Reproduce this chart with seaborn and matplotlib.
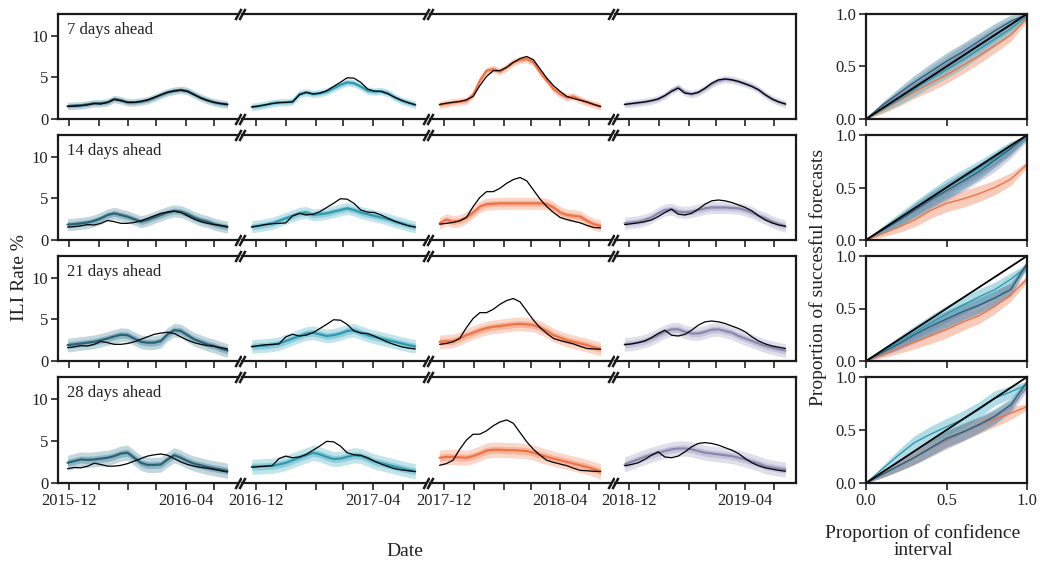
import numpy as np
import pandas as pd
import matplotlib
matplotlib.use("Agg")
import matplotlib.pyplot as plt
import matplotlib.dates as mdates
from matplotlib.ticker import FuncFormatter
import seaborn as sns

sns.set_theme(style="ticks")
plt.rcParams['font.family'] = ['Liberation Serif', 'DejaVu Serif']

# ---------------- data ----------------
HORIZONS = ["7 days ahead", "14 days ahead", "21 days ahead", "28 days ahead"]
SEASON_STARTS = ["2015-11-29", "2016-11-27", "2017-11-26", "2018-11-26"]
N_WEEKS = 25

# observed ILI rate by target week (extends 3 weeks past the forecast window)
truth_s1 = [1.5, 1.55, 1.6, 1.7, 1.85, 1.8, 2.0, 2.35, 2.2, 2.0, 2.0, 2.1, 2.3, 2.6,
            2.9, 3.2, 3.35, 3.45, 3.3, 2.9, 2.5, 2.2, 2.0, 1.85, 1.75, 1.6, 1.45, 1.3]
truth_s2 = [1.45, 1.55, 1.7, 1.85, 1.95, 2.0, 2.05, 2.9, 3.2, 3.0, 3.1, 3.4, 3.9, 4.4,
            4.95, 4.9, 4.4, 3.6, 3.35, 3.3, 3.0, 2.6, 2.25, 1.95, 1.7, 1.55, 1.45, 1.35]
truth_s3 = [1.75, 1.9, 2.0, 2.1, 2.3, 2.7, 4.0, 5.1, 5.8, 5.8, 6.2, 6.8, 7.25, 7.5,
            7.1, 6.0, 4.9, 4.0, 3.3, 2.7, 2.45, 2.25, 2.05, 1.75, 1.5, 1.45, 1.4, 1.35]
truth_s4 = [1.75, 1.85, 1.95, 2.05, 2.2, 2.4, 2.8, 3.3, 3.7, 3.1, 3.0, 3.2, 3.7, 4.3,
            4.7, 4.8, 4.7, 4.5, 4.2, 3.9, 3.5, 2.9, 2.4, 2.05, 1.8, 1.65, 1.5, 1.4]
TRUTH = [truth_s1, truth_s2, truth_s3, truth_s4]

# forecast medians: [horizon][season]
med_h7 = [
    [1.55, 1.6, 1.65, 1.75, 1.9, 1.9, 2.0, 2.4, 2.25, 2.0, 2.0, 2.1, 2.25, 2.55, 2.9, 3.2, 3.4, 3.5, 3.35, 2.95, 2.55, 2.25, 2.0, 1.85, 1.75],
    [1.45, 1.55, 1.7, 1.9, 2.0, 2.0, 2.1, 3.0, 3.2, 3.0, 3.1, 3.3, 3.7, 4.1, 4.4, 4.3, 3.9, 3.4, 3.3, 3.35, 3.1, 2.6, 2.2, 1.95, 1.7],
    [1.7, 1.85, 2.0, 2.1, 2.2, 2.9, 4.6, 5.8, 6.0, 5.7, 6.2, 6.8, 7.1, 7.2, 6.8, 5.6, 4.6, 3.6, 3.0, 2.6, 2.7, 2.3, 2.0, 1.75, 1.5],
    [1.75, 1.85, 1.95, 2.05, 2.2, 2.4, 2.8, 3.4, 3.8, 3.2, 3.0, 3.2, 3.65, 4.2, 4.6, 4.8, 4.7, 4.5, 4.25, 3.95, 3.5, 2.9, 2.4, 2.05, 1.8],
]
med_h14 = [
    [1.85, 1.9, 2.0, 2.1, 2.3, 2.6, 3.0, 3.2, 3.0, 2.8, 2.5, 2.2, 2.4, 2.7, 3.0, 3.3, 3.5, 3.4, 3.1, 2.7, 2.4, 2.2, 1.9, 1.7, 1.55],
    [1.6, 1.7, 1.85, 2.0, 2.3, 2.6, 2.9, 3.2, 3.3, 3.0, 3.1, 3.2, 3.4, 3.6, 3.8, 3.6, 3.3, 3.1, 2.9, 2.7, 2.5, 2.2, 2.0, 1.75, 1.55],
    [2.0, 2.45, 2.2, 2.3, 2.7, 3.3, 4.0, 4.3, 4.35, 4.4, 4.4, 4.4, 4.4, 4.4, 4.4, 4.4, 4.3, 3.9, 3.3, 3.0, 2.9, 2.8, 2.3, 1.9, 1.7],
    [2.0, 2.1, 2.2, 2.4, 2.7, 3.2, 3.6, 3.7, 3.4, 3.3, 3.4, 3.6, 3.8, 3.9, 3.9, 3.9, 3.85, 3.8, 3.6, 3.3, 2.9, 2.6, 2.2, 1.9, 1.65],
]
med_h21 = [
    [1.9, 2.0, 2.1, 2.2, 2.3, 2.5, 2.7, 2.95, 3.15, 3.1, 2.7, 2.3, 2.2, 2.2, 2.4, 3.2, 3.7, 3.6, 3.1, 2.6, 2.3, 2.0, 1.8, 1.5, 1.25],
    [1.75, 1.8, 1.85, 1.95, 2.1, 2.4, 2.7, 3.0, 3.3, 3.4, 3.2, 3.0, 3.1, 3.3, 3.6, 3.7, 3.4, 3.1, 2.9, 2.7, 2.5, 2.3, 2.1, 1.9, 1.75],
    [2.3, 2.35, 2.4, 2.7, 3.1, 3.4, 3.7, 3.95, 4.1, 4.2, 4.3, 4.4, 4.45, 4.4, 4.3, 4.0, 3.6, 3.1, 2.8, 2.5, 2.3, 2.1, 1.9, 1.65, 1.45],
    [2.0, 2.05, 2.2, 2.4, 2.7, 3.1, 3.5, 3.8, 3.8, 3.5, 3.3, 3.3, 3.5, 3.75, 3.8, 3.6, 3.4, 3.0, 2.7, 2.4, 2.1, 1.8, 1.6, 1.4, 1.25],
]
med_h28 = [
    [2.4, 2.6, 2.8, 2.75, 2.8, 2.9, 3.0, 3.2, 3.5, 3.6, 3.0, 2.4, 2.15, 2.15, 2.2, 2.8, 3.3, 3.0, 2.6, 2.3, 2.1, 1.9, 1.75, 1.6, 1.45],
    [1.95, 1.95, 2.0, 2.05, 2.2, 2.4, 2.7, 3.0, 3.3, 3.6, 3.4, 3.1, 2.85, 2.9, 3.1, 3.3, 3.2, 2.9, 2.55, 2.35, 2.15, 1.95, 1.75, 1.55, 1.4],
    [3.0, 3.1, 3.1, 3.05, 3.0, 3.2, 3.5, 3.85, 3.95, 3.95, 3.9, 3.9, 3.85, 3.8, 3.6, 3.35, 3.1, 2.9, 2.7, 2.5, 2.3, 2.1, 1.9, 1.65, 1.4],
    [2.2, 2.5, 2.8, 3.1, 3.35, 3.6, 3.8, 4.0, 4.1, 4.1, 4.0, 3.8, 3.6, 3.5, 3.4, 3.3, 3.2, 3.0, 2.8, 2.55, 2.3, 2.0, 1.85, 1.7, 1.6],
]
MEDIANS = [med_h7, med_h14, med_h21, med_h28]

# half-widths of the inner / outer prediction intervals per horizon
INNER_HW = [0.22, 0.35, 0.4, 0.42]
OUTER_HW = [0.45, 0.72, 0.82, 0.9]

# calibration: proportion of confidence interval vs proportion of successful forecasts
cal_x = [0.0, 0.1, 0.2, 0.3, 0.4, 0.5, 0.6, 0.7, 0.8, 0.9, 1.0]
cal_h7 = [
    [0, 0.13, 0.24, 0.35, 0.45, 0.55, 0.64, 0.74, 0.84, 0.93, 1.0],
    [0, 0.09, 0.18, 0.28, 0.38, 0.47, 0.56, 0.66, 0.76, 0.86, 0.98],
    [0, 0.08, 0.17, 0.26, 0.34, 0.42, 0.51, 0.6, 0.7, 0.8, 0.96],
    [0, 0.12, 0.22, 0.32, 0.42, 0.52, 0.62, 0.71, 0.81, 0.9, 1.0],
]
cal_h14 = [
    [0, 0.09, 0.18, 0.28, 0.38, 0.47, 0.56, 0.65, 0.76, 0.87, 1.0],
    [0, 0.1, 0.2, 0.3, 0.4, 0.5, 0.59, 0.68, 0.78, 0.88, 0.98],
    [0, 0.06, 0.12, 0.19, 0.28, 0.35, 0.39, 0.44, 0.5, 0.58, 0.72],
    [0, 0.09, 0.18, 0.27, 0.36, 0.45, 0.54, 0.63, 0.72, 0.84, 0.97],
]
cal_h21 = [
    [0, 0.08, 0.16, 0.25, 0.33, 0.40, 0.47, 0.53, 0.6, 0.68, 0.93],
    [0, 0.09, 0.18, 0.27, 0.36, 0.45, 0.53, 0.61, 0.68, 0.78, 0.9],
    [0, 0.06, 0.12, 0.18, 0.24, 0.3, 0.37, 0.43, 0.52, 0.63, 0.78],
    [0, 0.08, 0.15, 0.23, 0.31, 0.38, 0.45, 0.52, 0.6, 0.7, 0.9],
]
cal_h28 = [
    [0, 0.08, 0.16, 0.24, 0.33, 0.42, 0.48, 0.55, 0.63, 0.74, 0.95],
    [0, 0.13, 0.26, 0.38, 0.46, 0.53, 0.6, 0.69, 0.8, 0.86, 0.93],
    [0, 0.08, 0.16, 0.24, 0.33, 0.41, 0.48, 0.54, 0.6, 0.66, 0.72],
    [0, 0.08, 0.16, 0.24, 0.32, 0.4, 0.47, 0.54, 0.62, 0.72, 0.9],
]
CALIB = [cal_h7, cal_h14, cal_h21, cal_h28]
cal_hw = [0.0, 0.03, 0.05, 0.065, 0.075, 0.08, 0.08, 0.075, 0.07, 0.06, 0.03]

LINE_COLORS = ["#2a6277", "#2e9ab0", "#ee7448", "#8a89ae"]
BAND_COLORS = ["#4f8aa0", "#52b3c6", "#f38d66", "#a4a3c6"]
CAL_ORDER = [2, 3, 1, 0]

# ---------------- layout ----------------
W, H = 1040, 566
fig = plt.figure(figsize=(W / 100, H / 100), dpi=100)

SEG_PX = [(58, 238), (242, 426), (430, 611), (615, 796)]
ROW_PX = [(14, 119), (135, 240), (256, 361), (377, 483)]
CAL_PX = (866, 1027)


def add_ax(x0, x1, y0, y1):
    return fig.add_axes([x0 / W, 1 - y1 / H, (x1 - x0) / W, (y1 - y0) / H])


def month_fmt(x, pos):
    d = mdates.num2date(x)
    return d.strftime("%Y-%m") if d.month in (12, 4) else ""


SPINE_W = 1.6
TICK_FS = 12
LABEL_FS = 14
TXT = "#222222"
slash = [(-0.55, -1), (0.55, 1)]

for r in range(4):
    y0, y1 = ROW_PX[r]
    for s in range(4):
        x0, x1 = SEG_PX[s]
        ax = add_ax(x0, x1, y0, y1)
        start = pd.Timestamp(SEASON_STARTS[s])
        dates = pd.date_range(start, periods=N_WEEKS, freq="7D")
        med = np.array(MEDIANS[r][s])
        # prediction bands
        ax.fill_between(dates, med - OUTER_HW[r], med + OUTER_HW[r],
                        color=BAND_COLORS[s], alpha=0.35, lw=0)
        ax.fill_between(dates, med - INNER_HW[r], med + INNER_HW[r],
                        color=BAND_COLORS[s], alpha=0.45, lw=0)
        sns.lineplot(x=dates, y=med, ax=ax, color=LINE_COLORS[s], lw=1.6)
        # observed values aligned to forecast date
        tr = np.array(TRUTH[s][r:r + N_WEEKS])
        sns.lineplot(x=dates, y=tr, ax=ax, color="black", lw=0.9)

        ax.set_xlim(start - pd.Timedelta(days=10), dates[-1] + pd.Timedelta(days=11))
        ax.set_ylim(0, 12.6)
        ax.set_xlabel("")
        ax.set_ylabel("")
        ax.xaxis.set_major_locator(mdates.MonthLocator())
        ax.xaxis.set_major_formatter(FuncFormatter(month_fmt))
        ax.tick_params(axis="both", direction="out", length=5, width=1.2,
                       labelsize=TICK_FS, colors=TXT, pad=2)
        if r < 3:
            ax.tick_params(axis="x", labelbottom=False)
        for sp in ax.spines.values():
            sp.set_linewidth(SPINE_W)
            sp.set_color("#1a1a1a")
        if s == 0:
            ax.set_yticks([0, 5, 10])
            ax.text(0.05, 0.845, HORIZONS[r], transform=ax.transAxes,
                    fontsize=12, va="center", ha="left", color=TXT)
        else:
            ax.spines["left"].set_visible(False)
            ax.tick_params(axis="y", left=False, labelleft=False)
            for yy in (0, 1):
                ax.plot([0], [yy], transform=ax.transAxes, marker=slash,
                        markersize=8, mew=1.8, color="#1a1a1a", clip_on=False)
        if s < 3:
            ax.spines["right"].set_visible(False)
            for yy in (0, 1):
                ax.plot([1], [yy], transform=ax.transAxes, marker=slash,
                        markersize=8, mew=1.8, color="#1a1a1a", clip_on=False)

    # calibration panel
    cax = add_ax(CAL_PX[0], CAL_PX[1], y0, y1)
    cx = np.array(cal_x)
    hw = np.array(cal_hw)
    for s in CAL_ORDER:
        cy = np.array(CALIB[r][s])
        cax.fill_between(cx, np.clip(cy - hw, 0, 1), np.clip(cy + hw, 0, 1),
                         color=BAND_COLORS[s], alpha=0.45, lw=0)
    for s in CAL_ORDER:
        sns.lineplot(x=cx, y=np.array(CALIB[r][s]), ax=cax,
                     color=LINE_COLORS[s], lw=1.0)
    sns.lineplot(x=[0, 1], y=[0, 1], ax=cax, color="black", lw=1.3)
    cax.set_xlim(0, 1)
    cax.set_ylim(0, 1)
    cax.set_xticks([0, 0.5, 1.0])
    cax.set_yticks([0, 0.5, 1.0])
    cax.set_xlabel("")
    cax.set_ylabel("")
    cax.tick_params(axis="both", direction="out", length=5, width=1.2,
                    labelsize=TICK_FS, colors=TXT, pad=2)
    if r < 3:
        cax.tick_params(axis="x", labelbottom=False)
    for sp in cax.spines.values():
        sp.set_linewidth(SPINE_W)
        sp.set_color("#1a1a1a")

fig.text(19 / W, 1 - 278 / H, "ILI Rate %", rotation=90, ha="center", va="center",
         fontsize=LABEL_FS, color=TXT)
fig.text(405 / W, 1 - 551 / H, "Date", ha="center", va="center",
         fontsize=LABEL_FS, color=TXT)
fig.text(818 / W, 1 - 277 / H, "Proportion of succesful forecasts", rotation=90,
         ha="center", va="center", fontsize=LABEL_FS, color=TXT)
fig.text(923 / W, 1 - 542 / H, "Proportion of confidence\ninterval", ha="center",
         va="center", fontsize=LABEL_FS, color=TXT, linespacing=1.0)

fig.savefig("out.png", dpi=100)
